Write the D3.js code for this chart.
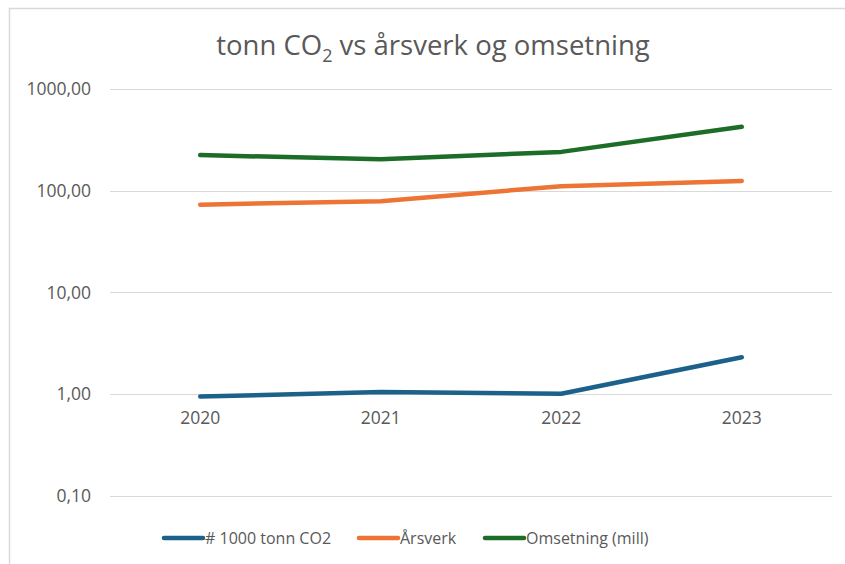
<!DOCTYPE html>
<html>
<head>
<meta charset="utf-8">
<script src="https://cdn.jsdelivr.net/npm/d3@7"></script>
<style>
  body { margin: 0; background: #fff; }
  text { font-family: "Open Sans", "Noto Sans", sans-serif; fill: #595959; }
</style>
</head>
<body>
<script>
var years = ["2020", "2021", "2022", "2023"];
var co2 = [0.95, 1.05, 1.01, 2.31];
var arsverk = [73, 79, 111, 125];
var omsetning = [224, 204, 241, 425];
var yTicks = [0.1, 1, 10, 100, 1000];

var series = [
  {name: "# 1000 tonn CO2", values: co2, color: "#1b6189", lx: 163},
  {name: "Årsverk", values: arsverk, color: "#ed7434", lx: 358},
  {name: "Omsetning (mill)", values: omsetning, color: "#1b6d27", lx: 484}
];

var W = 845, H = 564,
    plotLeft = 110, plotRight = 832, plotTop = 89, plotBottom = 496;

var svg = d3.select("body").append("svg")
    .attr("width", W)
    .attr("height", H);

// chart frame (cut off at right/bottom in the original)
svg.append("path")
    .attr("d", "M9.5," + H + "V8.5H" + W)
    .attr("fill", "none")
    .attr("stroke", "#d9d9d9")
    .attr("stroke-width", 1.5);

var x = d3.scaleBand().domain(years).range([plotLeft, plotRight]),
    y = d3.scaleLog().domain([0.1, 1000]).range([plotBottom, plotTop]);

var fmt = v => d3.format(".2f")(v).replace(".", ",");

// gridlines
svg.append("g").selectAll("line")
    .data(yTicks)
  .enter().append("line")
    .attr("x1", plotLeft).attr("x2", plotRight)
    .attr("y1", d => Math.round(y(d)) + 0.5)
    .attr("y2", d => Math.round(y(d)) + 0.5)
    .attr("stroke", "#d9d9d9")
    .attr("stroke-width", 1);

// y tick labels
svg.append("g").selectAll("text")
    .data(yTicks)
  .enter().append("text")
    .attr("x", 91)
    .attr("y", d => y(d))
    .attr("dy", "0.35em")
    .attr("text-anchor", "end")
    .style("font-size", "17.5px")
    .text(fmt);

// x axis crosses at 1
var xAxis = svg.append("g")
    .attr("transform", "translate(0," + y(1) + ")")
    .call(d3.axisBottom(x).tickSize(0).tickPadding(17));
xAxis.select(".domain").remove();
xAxis.selectAll("text")
    .style("font-size", "17.5px")
    .style("font-family", "'Open Sans', 'Noto Sans', sans-serif")
    .attr("fill", "#595959");

var line = d3.line()
    .x((d, i) => x(years[i]) + x.bandwidth() / 2)
    .y(d => y(d));

svg.append("g").selectAll("path")
    .data(series)
  .enter().append("path")
    .attr("d", s => line(s.values))
    .attr("fill", "none")
    .attr("stroke", s => s.color)
    .attr("stroke-width", 4.5)
    .attr("stroke-linecap", "round")
    .attr("stroke-linejoin", "round");

// title
var title = svg.append("text")
    .attr("x", 433)
    .attr("y", 55)
    .attr("text-anchor", "middle")
    .style("font-size", "27.5px");
title.append("tspan").text("tonn CO");
title.append("tspan").text("2").attr("dy", 7).style("font-size", "18px");
title.append("tspan").text(" vs årsverk og omsetning").attr("dy", -7);

// legend
var lg = svg.append("g").selectAll("g")
    .data(series)
  .enter().append("g")
    .attr("transform", s => "translate(" + s.lx + ",538)");
lg.append("line")
    .attr("x1", 1).attr("x2", 40)
    .attr("stroke", s => s.color)
    .attr("stroke-width", 4.5)
    .attr("stroke-linecap", "round");
lg.append("text")
    .attr("x", 42)
    .attr("dy", "0.35em")
    .style("font-size", "16px")
    .text(s => s.name);
</script>
</body>
</html>
